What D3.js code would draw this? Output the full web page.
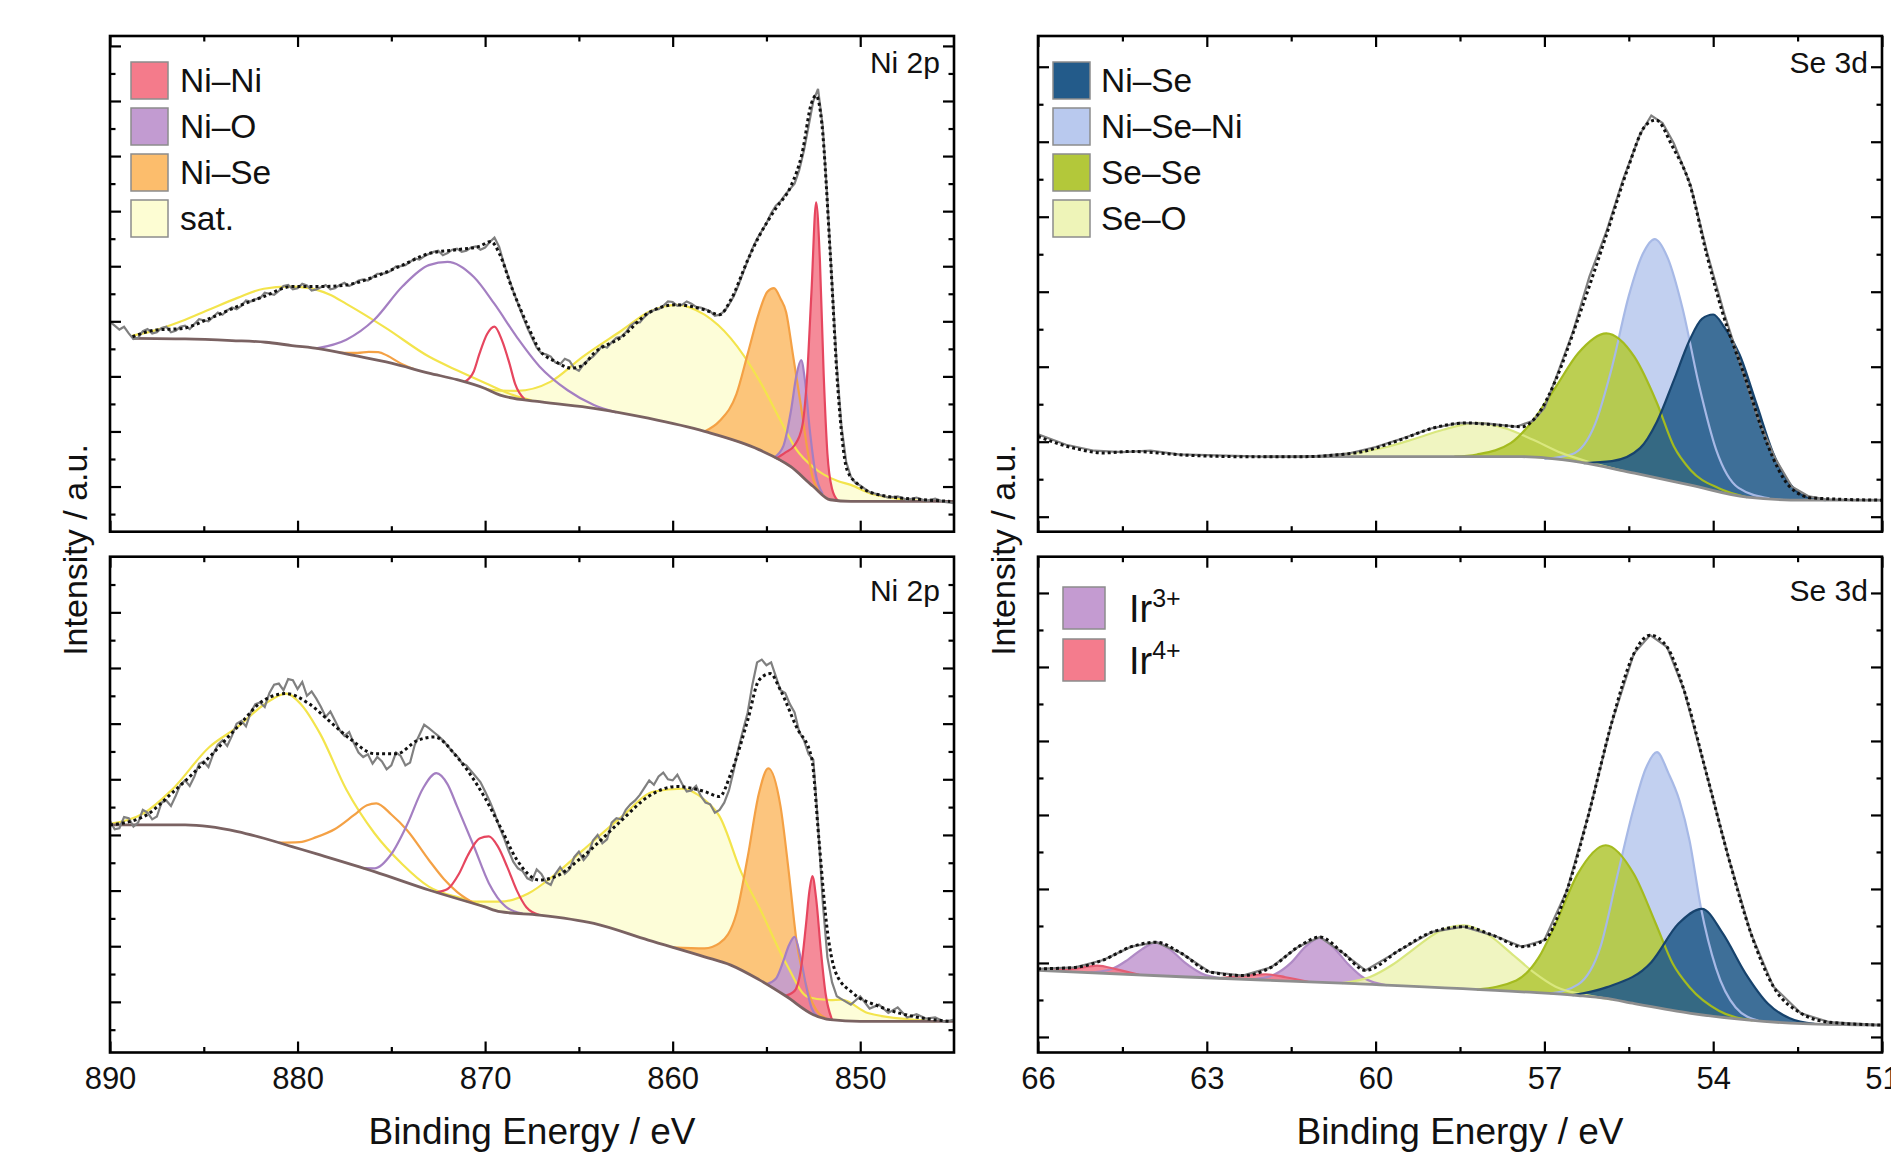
<!DOCTYPE html>
<html lang="en">
<head>
<meta charset="UTF-8">
<title>XPS Ni 2p / Se 3d</title>
<script src="https://d3js.org/d3.v7.min.js"></script>
<style>
  body { margin: 0; background: #fff; }
  svg { display: block; }
</style>
</head>
<body>
<svg id="chart" width="1891" height="1161"></svg>
<script>
// ---- axis ticks ----
const niMajor = [890, 880, 870, 860, 850];
const niMinor = [885, 875, 865, 855];
const seMajor = [66, 63, 60, 57, 54, 51];
const seMinor = [64.5, 61.5, 58.5, 55.5, 52.5];

// ---- Ni 2p, upper panel: [binding energy, intensity] ----
const niTopBg = [[888.8,2.69],[886,2.68],[883.5,2.65],[881.7,2.62],[880.3,2.56],[878.8,2.50],[877,2.38],[875,2.24],[873,2.06],[871.5,1.94],[870,1.78],[869.2,1.66],[867.1,1.54],[864.2,1.42],[861.3,1.24],[858.3,1.00],[855.4,0.67],[853.7,0.36],[852.5,0.0],[851.6,-0.24],[850.5,-0.27],[845,-0.27]];
const niTopData = [[890,2.99],[889.75,2.92],[889.5,2.85],[889.25,2.90],[889,2.78],[888.75,2.68],[888.5,2.70],[888.25,2.82],[888,2.86],[887.75,2.78],[887.5,2.80],[887.25,2.88],[887,2.90],[886.75,2.80],[886.5,2.83],[886.25,2.90],[886,2.92],[885.75,2.86],[885.5,2.95],[885.25,3.04],[885,3.02],[884.75,3.00],[884.5,3.08],[884.25,3.16],[884,3.12],[883.75,3.20],[883.5,3.25],[883.25,3.22],[883,3.28],[882.75,3.38],[882.5,3.36],[882.25,3.40],[882,3.42],[881.75,3.52],[881.5,3.50],[881.25,3.48],[881,3.55],[880.75,3.64],[880.5,3.66],[880.25,3.58],[880,3.60],[879.75,3.68],[879.5,3.65],[879.25,3.56],[879,3.58],[878.75,3.62],[878.5,3.66],[878.25,3.58],[878,3.60],[877.75,3.66],[877.5,3.70],[877.25,3.64],[877,3.68],[876.75,3.74],[876.5,3.76],[876.25,3.74],[876,3.80],[875.75,3.86],[875.5,3.86],[875.25,3.88],[875,3.92],[874.75,4.00],[874.5,4.00],[874.25,4.02],[874,4.08],[873.75,4.14],[873.5,4.12],[873.25,4.18],[873,4.22],[872.75,4.26],[872.5,4.28],[872.25,4.20],[872,4.24],[871.75,4.30],[871.5,4.32],[871.25,4.26],[871,4.28],[870.75,4.34],[870.5,4.36],[870.25,4.30],[870,4.34],[869.75,4.44],[869.5,4.52],[869.25,4.35],[869,4.05],[868.75,3.80],[868.5,3.55],[868.25,3.32],[868,3.10],[867.75,2.88],[867.5,2.70],[867.25,2.52],[867,2.42],[866.75,2.40],[866.5,2.36],[866.25,2.25],[866,2.22],[865.75,2.32],[865.5,2.28],[865.25,2.15],[865,2.10],[864.75,2.22],[864.5,2.30],[864.25,2.36],[864,2.45],[863.75,2.56],[863.5,2.52],[863.25,2.62],[863,2.70],[862.75,2.72],[862.5,2.80],[862.25,2.92],[862,2.98],[861.75,2.98],[861.5,3.08],[861.25,3.16],[861,3.20],[860.75,3.22],[860.5,3.28],[860.25,3.36],[860,3.35],[859.75,3.28],[859.5,3.30],[859.25,3.36],[859,3.32],[858.75,3.26],[858.5,3.25],[858.25,3.22],[858,3.18],[857.75,3.10],[857.5,3.12],[857.25,3.18],[857,3.30],[856.75,3.45],[856.5,3.65],[856.25,3.88],[856,4.10],[855.75,4.32],[855.5,4.50],[855.25,4.64],[855,4.78],[854.75,4.96],[854.5,5.10],[854.25,5.18],[854,5.30],[853.75,5.40],[853.5,5.50],[853.25,5.75],[853,6.10],[852.75,6.55],[852.5,7.00],[852.25,7.22],[852,6.55],[851.75,5.20],[851.5,3.70],[851.25,2.20],[851,1.10],[850.75,0.45],[850.5,0.18],[850.25,0.06],[850,0.02],[849.5,-0.10],[849,-0.15],[848.5,-0.20],[848,-0.18],[847.5,-0.24],[847,-0.20],[846.5,-0.26],[846,-0.22],[845.5,-0.28],[845,-0.30]];
const niTopFit = [[888.8,2.72],[887.6,2.84],[886.15,2.87],[884.7,3.05],[883.2,3.27],[881.8,3.45],[880.3,3.63],[878.8,3.63],[877.4,3.66],[875.9,3.81],[874.4,4.02],[873,4.23],[871.5,4.30],[870.3,4.36],[869.7,4.45],[869.2,4.20],[868.6,3.63],[867.7,2.90],[867.1,2.48],[866.25,2.27],[865.4,2.15],[864.8,2.20],[864.2,2.42],[862.7,2.72],[861.3,3.15],[859.8,3.30],[858.3,3.21],[857.5,3.12],[856.9,3.39],[856,4.11],[855.4,4.54],[854.5,5.05],[853.7,5.45],[853.1,6.05],[852.6,6.96],[852.35,7.10],[852.05,6.60],[851.6,4.24],[851.2,1.82],[850.7,0.30],[850.15,0.05],[849,-0.15],[846.6,-0.24],[845.2,-0.27]];
// components: [binding energy, height above background]
const niTopNiNi3 = [[854.5,0],[854,0.2],[853.5,0.45],[853.1,0.9],[852.85,1.8],[852.6,3.5],[852.35,5.2],[852.15,4.2],[851.95,2.2],[851.75,0.8],[851.5,0.2],[851.2,0]];
const niTopNiO3 = [[854.6,0],[854.1,0.3],[853.7,1.0],[853.4,1.75],[853.15,2.1],[852.95,1.8],[852.7,1.0],[852.4,0.3],[852,0]];
const niTopNiSe3 = [[858.3,0],[857.5,0.28],[856.6,0.87],[856,1.67],[855.4,2.48],[854.95,2.95],[854.6,3.08],[854.25,2.95],[853.95,2.76],[853.6,2.09],[853.2,1.34],[852.8,0.55],[852.5,0.12],[852,0]];
const niTopSat3 = [[870,0],[869.2,0.08],[868.3,0.13],[866.5,0.39],[864.8,0.91],[862.7,1.51],[861.2,1.95],[859.8,2.18],[858.3,2.12],[856.9,1.85],[855.4,1.27],[854.25,0.74],[853.4,0.4],[852.5,0.35],[851.2,0.35],[850.5,0.3],[849.5,0.15],[848,0.05],[846.5,0]];
const niTopNiNi1 = [[871.1,0],[870.6,0.25],[870.3,0.6],[869.9,1.0],[869.5,1.2],[869.1,1.0],[868.7,0.6],[868.4,0.25],[867.9,0]];
const niTopNiO1 = [[879,0],[877.4,0.26],[875.9,0.73],[874.4,1.45],[873,1.96],[872,2.1],[870.6,1.96],[869.5,1.61],[868.3,1.1],[867.1,0.64],[865.6,0.27],[864.2,0.06],[863,0]];
const niTopNiSe1 = [[877.8,0],[876.8,0.06],[876.2,0.12],[875.7,0.15],[875.2,0.12],[874.6,0.05],[873.8,0]];
const niTopSat1 = [[888.8,0.05],[887.6,0.15],[886.2,0.32],[884.7,0.55],[883.2,0.78],[881.8,0.97],[880.5,1.06],[879.4,1.08],[878.3,1.02],[877.4,0.91],[875.3,0.62],[873,0.30],[871.5,0.17],[870,0.10],[868.5,0.04],[867.5,0]];

// ---- Ni 2p, lower panel ----
const niBotBg = [[890,3.18],[886,3.18],[884.7,3.15],[883.2,3.06],[881.8,2.94],[880.3,2.79],[878.8,2.64],[875.9,2.34],[873,2.01],[870.05,1.71],[869.2,1.62],[867.1,1.56],[864.2,1.41],[861.3,1.11],[858.3,0.81],[856.9,0.66],[855.4,0.40],[853.95,0.10],[852.5,-0.23],[851.6,-0.32],[850,-0.35],[845,-0.35]];
const niBotData = [[890,3.25],[889.75,3.10],[889.5,3.12],[889.25,3.32],[889,3.30],[888.75,3.15],[888.5,3.22],[888.25,3.45],[888,3.40],[887.75,3.28],[887.5,3.33],[887.25,3.58],[887,3.62],[886.75,3.52],[886.5,3.70],[886.25,3.90],[886,3.98],[885.75,3.88],[885.5,4.05],[885.25,4.28],[885,4.32],[884.75,4.22],[884.5,4.45],[884.25,4.62],[884,4.70],[883.75,4.60],[883.5,4.78],[883.25,5.00],[883,5.05],[882.75,4.95],[882.5,5.20],[882.25,5.35],[882,5.38],[881.75,5.30],[881.5,5.55],[881.25,5.70],[881,5.72],[880.75,5.60],[880.5,5.80],[880.25,5.78],[880,5.62],[879.75,5.75],[879.5,5.50],[879.25,5.58],[879,5.45],[878.75,5.30],[878.5,5.12],[878.25,5.22],[878,5.05],[877.75,4.88],[877.5,4.78],[877.25,4.85],[877,4.65],[876.75,4.48],[876.5,4.40],[876.25,4.45],[876,4.28],[875.75,4.40],[875.5,4.32],[875.25,4.18],[875,4.25],[874.75,4.48],[874.5,4.42],[874.25,4.25],[874,4.30],[873.75,4.62],[873.5,4.80],[873.25,4.98],[873,4.92],[872.75,4.85],[872.5,4.78],[872.25,4.70],[872,4.60],[871.75,4.50],[871.5,4.42],[871.25,4.30],[871,4.25],[870.75,4.15],[870.5,4.05],[870.25,3.95],[870,3.78],[869.75,3.60],[869.5,3.40],[869.25,3.15],[869,2.95],[868.75,2.72],[868.5,2.52],[868.25,2.40],[868,2.35],[867.75,2.22],[867.5,2.18],[867.25,2.38],[867,2.30],[866.75,2.15],[866.5,2.10],[866.25,2.30],[866,2.42],[865.75,2.30],[865.5,2.38],[865.25,2.60],[865,2.70],[864.75,2.55],[864.5,2.65],[864.25,2.90],[864,3.00],[863.75,2.85],[863.5,2.92],[863.25,3.22],[863,3.30],[862.75,3.28],[862.5,3.45],[862.25,3.55],[862,3.62],[861.75,3.72],[861.5,3.85],[861.25,3.98],[861,3.90],[860.75,4.05],[860.5,4.12],[860.25,4.00],[860,3.98],[859.75,4.08],[859.5,3.92],[859.25,3.78],[859,3.80],[858.75,3.88],[858.5,3.70],[858.25,3.58],[858,3.55],[857.75,3.40],[857.5,3.45],[857.25,3.58],[857,3.80],[856.75,4.15],[856.5,4.55],[856.25,4.88],[856,5.20],[855.75,5.70],[855.5,6.10],[855.25,6.15],[855,6.05],[854.75,6.10],[854.5,5.85],[854.25,5.60],[854,5.55],[853.75,5.35],[853.5,5.20],[853.25,4.85],[853,4.70],[852.75,4.45],[852.5,4.35],[852.25,3.20],[852,1.80],[851.75,0.80],[851.5,0.35],[851.25,0.10],[851,0.05],[850.5,-0.05],[850,0.10],[849.5,-0.12],[849,-0.05],[848.5,-0.20],[848,-0.10],[847.5,-0.28],[847,-0.22],[846.5,-0.30],[846,-0.28],[845.5,-0.36],[845,-0.32]];
const niBotFit = [[890,3.18],[888.2,3.33],[886.7,3.75],[884.7,4.40],[883.2,4.94],[881.8,5.42],[880.6,5.54],[879.4,5.36],[878.25,5.03],[877.1,4.70],[875.9,4.46],[874.7,4.46],[873.6,4.70],[872.7,4.76],[871.5,4.40],[870.05,3.69],[869.2,3.15],[868.3,2.55],[867.1,2.19],[866.25,2.25],[864.8,2.61],[862.7,3.27],[861.3,3.69],[859.8,3.87],[858.3,3.78],[857.5,3.69],[856.9,4.10],[856,5.06],[855.4,5.78],[854.8,5.90],[854.25,5.60],[853.4,4.94],[852.6,4.40],[852.2,2.91],[851.8,1.41],[851.3,0.52],[850.4,0.16],[849,-0.08],[847.2,-0.26],[845.2,-0.35]];
const niBotNiNi3 = [[854,0],[853.5,0.2],[853.15,0.7],[852.9,1.5],[852.7,2.2],[852.55,2.48],[852.35,2.1],[852.1,1.2],[851.85,0.45],[851.5,0]];
const niBotNiO3 = [[855,0],[854.5,0.2],[854.1,0.6],[853.8,0.95],[853.5,1.17],[853.2,0.9],[852.9,0.45],[852.6,0.1],[852.3,0]];
const niBotNiSe3 = [[860,0],[858.3,0.15],[857.5,0.33],[856.6,0.98],[856,2.1],[855.4,3.35],[854.9,3.9],[854.25,3.35],[853.8,2.24],[853.4,1.13],[852.8,0.37],[852.2,0.05],[851.8,0]];
const niBotSat3 = [[871,0],[869.2,0.18],[867.7,0.37],[866.25,0.78],[864.8,1.28],[862.7,2.08],[861,2.7],[859.5,2.9],[858.3,2.82],[857.5,2.61],[856.3,1.74],[855.4,1.31],[853.95,0.59],[852.8,0.25],[851.6,0.35],[851,0.37],[849.6,0.15],[847.2,0.03],[846,0]];
const niBotNiNi1 = [[872.6,0],[872,0.12],[871.4,0.45],[870.9,0.85],[870.3,1.2],[869.8,1.29],[869.3,1.15],[868.8,0.8],[868.3,0.4],[867.8,0.12],[867.1,0]];
const niBotNiO1 = [[876.5,0],[875.9,0.06],[875,0.42],[874.15,1.05],[873.3,1.8],[872.6,2.14],[872,2.0],[871.5,1.66],[870.6,1.03],[869.8,0.45],[868.9,0.1],[868,0]];
const niBotNiSe1 = [[881,0],[879.9,0.12],[879,0.3],[878,0.55],[877,0.9],[876.3,1.15],[875.8,1.24],[875,1.13],[874.15,0.94],[873,0.54],[872.2,0.28],[871.5,0.12],[870.5,0]];
const niBotSat1 = [[890,0.02],[888.2,0.21],[886.7,0.63],[884.7,1.43],[883.2,1.88],[881.8,2.4],[880.6,2.72],[879.8,2.6],[878.8,2.18],[877.4,1.32],[875.9,0.69],[874.4,0.3],[873,0.06],[871,0.03],[870,0]];

// ---- Se 3d, upper panel ----
const seTopBg = [[62,0.80],[57.4,0.80],[56.4,0.73],[55.4,0.58],[54.4,0.42],[53.4,0.26],[52.4,0.22],[51,0.22]];
const seTopData = [[66,1.10],[65.5,0.96],[65,0.88],[64.5,0.86],[64,0.88],[63.5,0.83],[63,0.82],[62.5,0.81],[62,0.80],[61.5,0.80],[61,0.81],[60.5,0.84],[60,0.93],[59.5,1.05],[59,1.18],[58.5,1.25],[58,1.24],[57.5,1.20],[57.2,1.28],[57,1.45],[56.8,1.84],[56.5,2.45],[56.2,3.20],[55.9,3.80],[55.6,4.50],[55.3,5.10],[55.1,5.35],[54.9,5.25],[54.7,4.98],[54.4,4.42],[54.1,3.50],[53.8,2.70],[53.5,2.00],[53.2,1.30],[52.9,0.78],[52.6,0.40],[52.3,0.27],[52,0.23],[51.5,0.22],[51,0.22]];
const seTopFit = [[66,1.07],[65.34,0.91],[64.84,0.85],[64.34,0.87],[63.35,0.82],[62.36,0.80],[61.37,0.80],[60.37,0.85],[59.58,1.02],[58.99,1.18],[58.39,1.25],[57.8,1.22],[57.4,1.20],[57.1,1.38],[56.8,1.82],[56.41,2.62],[55.91,3.73],[55.51,4.66],[55.22,5.20],[55.02,5.29],[54.72,4.93],[54.42,4.44],[54.12,3.51],[53.83,2.71],[53.43,1.85],[53.03,0.95],[52.64,0.40],[52.24,0.25],[51,0.22]];
const seTopSeO = [[61,0],[60.3,0.06],[59.8,0.13],[59.3,0.24],[58.8,0.36],[58.2,0.45],[57.7,0.38],[57.2,0.24],[56.7,0.1],[56.2,0.03],[55.6,0]];
const seTopSeSe = [[58.6,0],[58.2,0.03],[57.6,0.18],[57.2,0.5],[56.8,0.97],[56.4,1.45],[55.9,1.79],[55.4,1.55],[55,1.0],[54.7,0.47],[54.4,0.2],[53.9,0.04],[53.4,0]];
const seTopNiSeNi = [[57,0],[56.5,0.1],[56.1,0.55],[55.8,1.35],[55.5,2.35],[55.25,2.95],[55.04,3.18],[54.8,2.95],[54.55,2.35],[54.25,1.35],[53.95,0.55],[53.55,0.1],[53,0]];
const seTopNiSe = [[56.3,0],[55.8,0.1],[55.3,0.35],[55,0.75],[54.7,1.35],[54.42,1.93],[54.2,2.25],[54,2.34],[53.8,2.2],[53.53,1.88],[53.23,1.25],[52.93,0.6],[52.64,0.21],[52.3,0.03],[52,0]];

// ---- Se 3d + Ir 4f, lower panel ----
const seBotBg = [[66,0.90],[63.35,0.81],[60.37,0.72],[57.4,0.61],[56.4,0.56],[55.9,0.52],[55.4,0.45],[54.4,0.32],[53.4,0.23],[52.4,0.18],[51,0.16]];
const seBotFit = [[66,0.92],[65.34,0.94],[64.84,1.04],[64.34,1.22],[63.9,1.28],[63.45,1.13],[62.95,0.88],[62.36,0.83],[61.86,0.94],[61.37,1.22],[60.99,1.35],[60.57,1.13],[60.18,0.90],[59.58,1.17],[58.99,1.42],[58.44,1.49],[57.9,1.37],[57.4,1.22],[57,1.31],[56.6,1.98],[56.21,3.02],[55.81,4.23],[55.41,5.18],[55.12,5.43],[54.82,5.27],[54.52,4.69],[54.12,3.56],[53.73,2.43],[53.33,1.40],[52.93,0.68],[52.44,0.32],[51.94,0.20],[51,0.16]];
const seBotIr3a = [[65.1,0],[64.7,0.06],[64.4,0.2],[64.15,0.35],[63.9,0.45],[63.65,0.36],[63.4,0.2],[63.1,0.06],[62.7,0]];
const seBotIr3b = [[62.2,0],[61.8,0.08],[61.5,0.25],[61.25,0.47],[61,0.6],[60.75,0.48],[60.5,0.27],[60.2,0.08],[59.8,0]];
const seBotIr4a = [[65.8,0],[65.3,0.05],[64.95,0.1],[64.6,0.06],[64.2,0]];
const seBotIr4b = [[62.8,0],[62.3,0.05],[61.95,0.08],[61.6,0.05],[61.2,0]];
const seBotSeO = [[60.6,0],[60.1,0.1],[59.7,0.28],[59.3,0.52],[58.9,0.75],[58.44,0.86],[58,0.75],[57.6,0.52],[57.2,0.28],[56.8,0.1],[56.3,0.02],[55.8,0]];
const seBotSeSe = [[58.2,0],[57.5,0.15],[57.1,0.48],[56.8,0.95],[56.41,1.64],[55.91,2.07],[55.41,1.75],[55.02,1.13],[54.72,0.63],[54.42,0.35],[53.9,0.08],[53.3,0]];
const seBotNiSeNi = [[56.9,0],[56.4,0.15],[56,0.7],[55.7,1.7],[55.41,2.65],[55.2,3.2],[55,3.45],[54.8,3.2],[54.6,2.85],[54.42,2.33],[54.22,1.45],[53.95,0.65],[53.6,0.15],[53.2,0]];
const seBotNiSe = [[56.5,0],[55.9,0.15],[55.1,0.6],[54.62,1.18],[54.2,1.43],[53.83,1.13],[53.43,0.63],[53.03,0.24],[52.64,0.06],[52.2,0]];

// ---- legends ----
const niLegend = ["Ni–Ni", "Ni–O", "Ni–Se", "sat."];
const seLegend = ["Ni–Se", "Ni–Se–Ni", "Se–Se", "Se–O"];
const irLegend = [["Ir", "3+"], ["Ir", "4+"]];

// ---- styling ----
const FONT = "'Liberation Sans', Arial, Helvetica, sans-serif";
const col = {
  niNi:  {fill: "#f47b8b", stroke: "#e6465f"},
  niO:   {fill: "#c29bd1", stroke: "#a47fc2"},
  niSe:  {fill: "#fcbd6c", stroke: "#f4a145"},
  sat:   {fill: "#fdfdd3", stroke: "#f3e44c"},
  seNiSe:   {fill: "#235b8a", stroke: "#17436d"},
  seNiSeNi: {fill: "#b9c9ee", stroke: "#a7b9e6"},
  seSeSe:   {fill: "#b3c83a", stroke: "#a4bb1f"},
  seSeO:    {fill: "#eef4b8", stroke: "#d9e77e"},
  ir3:   {fill: "#c49bd1", stroke: "#b08ac5"},
  ir4:   {fill: "#f47c8d", stroke: "#e45d73"}
};

const svg = d3.select("#chart");
svg.append("rect").attr("width", 1891).attr("height", 1161).attr("fill", "#fff");

const panels = [
  {id: "niTop", left: 110, right: 954, top: 36, bottom: 531.7, xDomain: [890, 845], yDomain: [-0.82, 8.18],
   xMajor: niMajor, xMinor: niMinor, yMajor: d3.range(0, 9), yMinor: d3.range(-0.5, 8, 1),
   bg: niTopBg, bgColor: "#7a6262", data: niTopData, fit: niTopFit, showX: false, label: "Ni 2p", labelY: 73,
   peaks: [
     {pts: niTopSat3, c: col.sat, filled: true}, {pts: niTopNiSe3, c: col.niSe, filled: true},
     {pts: niTopNiO3, c: col.niO, filled: true}, {pts: niTopNiNi3, c: col.niNi, filled: true},
     {pts: niTopSat1, c: col.sat}, {pts: niTopNiSe1, c: col.niSe}, {pts: niTopNiO1, c: col.niO}, {pts: niTopNiNi1, c: col.niNi}
   ],
   legend: {x: 131, y: 62, size: 37, step: 46, tx: 180, items: niLegend, colors: [col.niNi, col.niO, col.niSe, col.sat]}},
  {id: "niBot", left: 110, right: 954, top: 556.7, bottom: 1052.5, xDomain: [890, 845], yDomain: [-0.91, 8.0],
   xMajor: niMajor, xMinor: niMinor, yMajor: d3.range(0, 8), yMinor: d3.range(-0.5, 8, 1),
   bg: niBotBg, bgColor: "#7a6262", data: niBotData, fit: niBotFit, showX: true, label: "Ni 2p", labelY: 601,
   peaks: [
     {pts: niBotSat3, c: col.sat, filled: true}, {pts: niBotNiSe3, c: col.niSe, filled: true},
     {pts: niBotNiO3, c: col.niO, filled: true}, {pts: niBotNiNi3, c: col.niNi, filled: true},
     {pts: niBotSat1, c: col.sat}, {pts: niBotNiSe1, c: col.niSe}, {pts: niBotNiO1, c: col.niO}, {pts: niBotNiNi1, c: col.niNi}
   ]},
  {id: "seTop", left: 1038, right: 1882, top: 36, bottom: 531.7, xDomain: [66, 51], yDomain: [-0.2, 6.41],
   xMajor: seMajor, xMinor: seMinor, yMajor: d3.range(0, 7), yMinor: d3.range(0.5, 6, 1),
   bg: seTopBg, bgColor: "#8e8e8e", data: seTopData, fit: seTopFit, showX: false, label: "Se 3d", labelY: 73,
   peaks: [
     {pts: seTopNiSeNi, c: col.seNiSeNi, filled: true}, {pts: seTopSeO, c: col.seSeO, filled: true},
     {pts: seTopSeSe, c: col.seSeSe, filled: true}, {pts: seTopNiSe, c: col.seNiSe, filled: true}
   ],
   legend: {x: 1053, y: 62, size: 37, step: 46, tx: 1101, items: seLegend, colors: [col.seNiSe, col.seNiSeNi, col.seSeSe, col.seSeO]}},
  {id: "seBot", left: 1038, right: 1882, top: 556.7, bottom: 1052.5, xDomain: [66, 51], yDomain: [-0.21, 6.49],
   xMajor: seMajor, xMinor: seMinor, yMajor: d3.range(0, 7), yMinor: d3.range(0.5, 6, 1),
   bg: seBotBg, bgColor: "#8e8e8e", data: seBotFit, fit: seBotFit, showX: true, label: "Se 3d", labelY: 601,
   peaks: [
     {pts: seBotIr3a, c: col.ir3, filled: true}, {pts: seBotIr3b, c: col.ir3, filled: true},
     {pts: seBotIr4a, c: col.ir4, filled: true}, {pts: seBotIr4b, c: col.ir4, filled: true},
     {pts: seBotNiSeNi, c: col.seNiSeNi, filled: true}, {pts: seBotSeO, c: col.seSeO, filled: true},
     {pts: seBotSeSe, c: col.seSeSe, filled: true}, {pts: seBotNiSe, c: col.seNiSe, filled: true}
   ],
   irLegend: {x: 1063, y: 587, size: 42, step: 52, tx: 1129, items: irLegend, colors: [col.ir3, col.ir4]}}
];

function styleTicks(sel) {
  sel.select(".domain").remove();
  sel.selectAll(".tick line").attr("stroke", "#000").attr("stroke-width", 2.2);
  sel.attr("font-family", FONT).attr("font-size", 31);
  sel.selectAll(".tick text").attr("fill", "#111");
}

function drawPanel(p) {
  const x = d3.scaleLinear().domain(p.xDomain).range([p.left, p.right]);
  const y = d3.scaleLinear().domain(p.yDomain).range([p.bottom, p.top]);
  const bgAt = d3.scaleLinear().domain(p.bg.map(d => d[0])).range(p.bg.map(d => d[1])).clamp(true);

  svg.append("clipPath").attr("id", "clip-" + p.id).append("rect")
    .attr("x", p.left).attr("y", p.top).attr("width", p.right - p.left).attr("height", p.bottom - p.top);
  const plot = svg.append("g").attr("clip-path", `url(#clip-${p.id})`);

  const area = d3.area().curve(d3.curveMonotoneX)
    .x(d => x(d[0])).y0(d => y(bgAt(d[0]))).y1(d => y(bgAt(d[0]) + d[1]));
  const peakLine = d3.line().curve(d3.curveMonotoneX)
    .x(d => x(d[0])).y(d => y(bgAt(d[0]) + d[1]));

  p.peaks.filter(k => k.filled).forEach(k => {
    plot.append("path").attr("d", area(k.pts)).attr("fill", k.c.fill).attr("fill-opacity", 0.88);
  });
  p.peaks.forEach(k => {
    plot.append("path").attr("d", peakLine(k.pts)).attr("fill", "none")
      .attr("stroke", k.c.stroke).attr("stroke-width", 2.2);
  });

  plot.append("path").datum(p.bg)
    .attr("d", d3.line().curve(d3.curveMonotoneX).x(d => x(d[0])).y(d => y(d[1])))
    .attr("fill", "none").attr("stroke", p.bgColor).attr("stroke-width", 2.8);

  plot.append("path").datum(p.data)
    .attr("d", d3.line().x(d => x(d[0])).y(d => y(d[1])))
    .attr("fill", "none").attr("stroke", "#808080").attr("stroke-width", 2.2);

  plot.append("path").datum(p.fit)
    .attr("d", d3.line().curve(d3.curveMonotoneX).x(d => x(d[0])).y(d => y(d[1])))
    .attr("fill", "none").attr("stroke", "#111").attr("stroke-width", 3)
    .attr("stroke-dasharray", "3 3");

  // frame
  svg.append("rect").attr("x", p.left).attr("y", p.top)
    .attr("width", p.right - p.left).attr("height", p.bottom - p.top)
    .attr("fill", "none").attr("stroke", "#000").attr("stroke-width", 2.6);

  // ticks, all pointing inward
  const g = svg.append("g");
  g.append("g").attr("transform", `translate(0,${p.bottom})`)
    .call(d3.axisBottom(x).tickValues(p.xMajor).tickSize(-11).tickPadding(14)
      .tickFormat(p.showX ? d3.format("d") : () => ""))
    .call(styleTicks);
  g.append("g").attr("transform", `translate(0,${p.bottom})`)
    .call(d3.axisBottom(x).tickValues(p.xMinor).tickSize(-5.5).tickFormat(() => "")).call(styleTicks);
  g.append("g").attr("transform", `translate(0,${p.top})`)
    .call(d3.axisTop(x).tickValues(p.xMajor).tickSize(-11).tickFormat(() => "")).call(styleTicks);
  g.append("g").attr("transform", `translate(0,${p.top})`)
    .call(d3.axisTop(x).tickValues(p.xMinor).tickSize(-5.5).tickFormat(() => "")).call(styleTicks);
  [[d3.axisLeft, p.left], [d3.axisRight, p.right]].forEach(([ax, pos]) => {
    g.append("g").attr("transform", `translate(${pos},0)`)
      .call(ax(y).tickValues(p.yMajor).tickSize(-11).tickFormat(() => "")).call(styleTicks);
    g.append("g").attr("transform", `translate(${pos},0)`)
      .call(ax(y).tickValues(p.yMinor).tickSize(-5.5).tickFormat(() => "")).call(styleTicks);
  });

  // panel label
  svg.append("text").attr("x", p.right - 14).attr("y", p.labelY)
    .attr("text-anchor", "end").attr("font-family", FONT).attr("font-size", 30).attr("fill", "#111")
    .text(p.label);

  if (p.legend) {
    const L = p.legend;
    L.items.forEach((name, i) => {
      const yy = L.y + i * L.step;
      svg.append("rect").attr("x", L.x).attr("y", yy).attr("width", L.size).attr("height", L.size)
        .attr("fill", L.colors[i].fill).attr("stroke", "#8c8c8c").attr("stroke-width", 1.5);
      svg.append("text").attr("x", L.tx).attr("y", yy + L.size / 2 + 11.5)
        .attr("font-family", FONT).attr("font-size", 33.5).attr("fill", "#111").text(name);
    });
  }
  if (p.irLegend) {
    const L = p.irLegend;
    L.items.forEach((it, i) => {
      const yy = L.y + i * L.step;
      svg.append("rect").attr("x", L.x).attr("y", yy).attr("width", L.size).attr("height", L.size)
        .attr("fill", L.colors[i].fill).attr("stroke", "#8c8c8c").attr("stroke-width", 1.5);
      const t = svg.append("text").attr("x", L.tx).attr("y", yy + L.size / 2 + 14)
        .attr("font-family", FONT).attr("font-size", 38).attr("fill", "#111");
      t.append("tspan").text(it[0]);
      t.append("tspan").attr("font-size", 25).attr("dy", -15).text(it[1]);
    });
  }
}

panels.forEach(drawPanel);

// axis titles
[532, 1460].forEach(cx => {
  svg.append("text").attr("x", cx).attr("y", 1144).attr("text-anchor", "middle")
    .attr("font-family", FONT).attr("font-size", 37).attr("fill", "#111").text("Binding Energy / eV");
});
[75, 1003].forEach(cx => {
  svg.append("text").attr("transform", `translate(${cx},550) rotate(-90)`)
    .attr("text-anchor", "middle").attr("dominant-baseline", "central")
    .attr("font-family", FONT).attr("font-size", 34).attr("fill", "#111").text("Intensity / a.u.");
});
</script>
</body>
</html>
